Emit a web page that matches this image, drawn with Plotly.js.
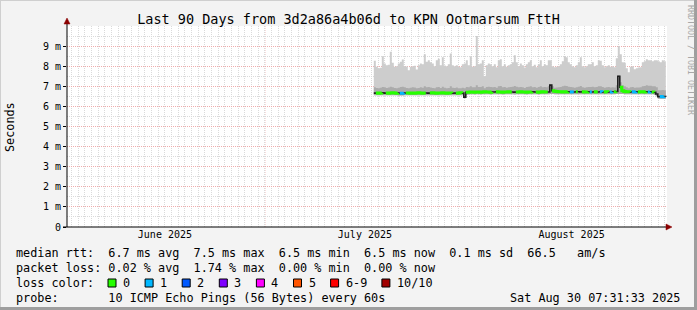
<!DOCTYPE html>
<html><head><meta charset="utf-8">
<script src="https://cdn.plot.ly/plotly-3.0.1.min.js"></script>
<style>html,body{margin:0;padding:0;background:#f3f3f3;overflow:hidden}#chart{width:697px;height:310px}</style>
</head><body><div id="chart"></div>
<script>
// ---- data ----
const titleText = 'Last 90 Days from 3d2a86a4b06d to KPN Ootmarsum FttH';
const rangeStart = '2025-06-01 07:31:33';
const rangeEnd = '2025-08-30 07:31:33';
const sampleStartUTC = [2025, 6, 17, 8, 0, 0];
const sampleStepHours = 7.2;
const monthStarts = ['2025-07-01', '2025-08-01'];
const monthLabelDates = ['2025-06-16', '2025-07-16', '2025-08-16'];
const monthLabels = ['June 2025', 'July 2025', 'August 2025'];
const yTickVals = [0, 1, 2, 3, 4, 5, 6, 7, 8, 9];
const yTickText = ['0', '1 m', '2 m', '3 m', '4 m', '5 m', '6 m', '7 m', '8 m', '9 m'];

// smoke top (max ping), ms
const smokeMax = [
 8.27,7.97,7.90,7.92,8.50,8.13,8.05,8.07,8.72,8.17,
 7.97,8.00,8.13,8.22,8.33,8.00,7.98,7.80,7.97,8.00,
 8.02,7.83,8.05,8.13,8.10,8.60,8.22,8.30,8.20,8.13,
 8.00,8.30,8.37,8.05,8.45,8.03,8.00,8.10,8.63,8.05,
 8.00,8.05,7.97,7.95,8.10,8.13,8.30,8.05,8.50,7.97,
 8.00,9.50,8.10,8.13,8.30,7.50,8.05,8.13,8.10,8.00,
 8.10,7.95,8.30,8.35,8.00,8.10,7.97,8.05,8.10,8.20,
 8.55,8.20,8.00,8.13,8.05,7.93,8.10,8.20,8.30,8.00,
 8.07,7.95,8.10,8.30,8.00,8.10,8.05,8.30,8.30,8.00,
 7.95,7.97,8.00,8.10,8.25,8.50,8.45,8.20,8.10,8.00,
 7.95,8.05,8.20,8.45,8.00,7.95,8.00,8.10,8.10,8.20,
 8.00,8.05,8.30,8.27,8.05,7.95,8.00,8.05,7.97,8.00,
 7.95,8.40,9.00,8.60,8.20,8.17,7.90,7.70,7.97,8.00,
 7.85,7.90,7.93,7.95,8.20,8.25,8.35,8.30,8.30,8.25,
 8.30,8.30,8.25,8.20,8.30,8.25,8.20];
// upper edge of the darker smoke band, ms
const smokeMid = [
 6.95,6.92,6.90,6.93,6.97,6.95,6.92,6.94,6.98,6.95,
 6.92,6.90,6.93,6.96,6.98,6.95,6.91,6.90,6.93,6.95,
 6.94,6.90,6.92,6.95,6.93,7.00,6.95,6.97,6.94,6.92,
 6.90,6.95,6.97,6.92,6.98,6.93,6.90,6.92,7.00,6.93,
 6.92,6.94,6.90,6.90,6.93,6.90,6.97,6.95,7.00,6.95,
 6.95,7.05,6.97,6.96,7.00,6.90,6.96,6.98,6.97,6.95,
 6.97,6.93,7.00,7.02,6.95,6.97,6.93,6.95,6.97,6.98,
 7.02,6.98,6.95,6.97,6.95,6.92,6.96,6.98,7.00,6.95,
 6.96,6.93,6.96,7.00,6.95,6.97,6.95,7.00,7.12,7.00,
 6.93,6.94,6.95,6.97,7.00,7.03,7.02,6.98,6.96,6.95,
 6.93,6.95,6.98,7.02,6.95,6.93,6.95,6.97,6.96,6.98,
 6.95,6.96,7.00,7.00,6.96,6.93,6.95,6.96,6.94,6.95,
 6.94,7.05,7.55,7.20,7.05,7.00,6.95,6.90,6.95,6.96,
 6.93,6.94,6.94,6.95,7.00,7.02,7.05,7.03,7.03,7.00,
 7.00,6.95,6.80,6.80,6.82,6.80,6.80];
// smoke bottom (min ping), ms
const smokeMin = [
 6.55,6.55,6.56,6.55,6.55,6.56,6.55,6.55,6.56,6.55,
 6.55,6.55,6.54,6.54,6.54,6.55,6.56,6.55,6.55,6.56,
 6.55,6.55,6.56,6.55,6.55,6.56,6.55,6.55,6.56,6.55,
 6.55,6.56,6.55,6.55,6.56,6.55,6.55,6.56,6.55,6.55,
 6.56,6.55,6.55,6.56,6.55,6.40,6.58,6.59,6.60,6.60,
 6.59,6.60,6.60,6.59,6.60,6.61,6.60,6.60,6.59,6.60,
 6.60,6.61,6.60,6.60,6.59,6.60,6.60,6.61,6.60,6.60,
 6.59,6.60,6.60,6.61,6.60,6.60,6.59,6.60,6.60,6.61,
 6.60,6.60,6.59,6.60,6.61,6.60,6.60,6.60,6.62,6.62,
 6.61,6.61,6.60,6.60,6.60,6.61,6.60,6.60,6.60,6.60,
 6.60,6.61,6.61,6.60,6.61,6.60,6.60,6.61,6.60,6.60,
 6.61,6.60,6.60,6.61,6.60,6.60,6.61,6.60,6.60,6.61,
 6.61,6.62,6.62,6.62,6.62,6.61,6.61,6.61,6.60,6.61,
 6.60,6.61,6.60,6.61,6.61,6.60,6.61,6.60,6.61,6.60,
 6.58,6.50,6.38,6.38,6.38,6.38,6.38];
// median rtt, ms
const medianRtt = [
 6.66,6.67,6.66,6.67,6.68,6.66,6.67,6.66,6.67,6.68,
 6.67,6.66,6.67,6.65,6.65,6.66,6.67,6.67,6.66,6.67,
 6.66,6.67,6.68,6.67,6.66,6.67,6.67,6.66,6.67,6.68,
 6.67,6.66,6.67,6.67,6.68,6.67,6.66,6.67,6.67,6.66,
 6.67,6.66,6.67,6.68,6.66,6.46,6.70,6.71,6.72,6.72,
 6.71,6.72,6.72,6.71,6.72,6.73,6.72,6.72,6.71,6.72,
 6.72,6.73,6.72,6.72,6.71,6.72,6.72,6.73,6.72,6.72,
 6.71,6.72,6.72,6.73,6.72,6.72,6.71,6.72,6.72,6.73,
 6.72,6.72,6.71,6.72,6.73,6.72,6.72,6.72,7.06,6.78,
 6.75,6.74,6.73,6.73,6.72,6.73,6.72,6.73,6.72,6.72,
 6.72,6.73,6.73,6.72,6.73,6.72,6.72,6.73,6.72,6.72,
 6.73,6.72,6.72,6.73,6.72,6.72,6.73,6.72,6.72,6.73,
 6.73,6.74,7.50,6.95,6.78,6.74,6.73,6.73,6.72,6.73,
 6.72,6.73,6.72,6.73,6.73,6.72,6.73,6.72,6.73,6.72,
 6.70,6.62,6.48,6.49,6.48,6.49,6.48];
// lost pings out of 10 per sample
const lossPings = [
 2,0,0,0,0,2,0,0,0,0,
 0,0,0,1,1,1,0,0,0,0,
 0,0,0,0,0,0,0,2,0,0,
 0,0,0,0,0,0,0,0,0,0,
 2,0,0,0,0,2,0,0,0,0,
 0,0,0,0,0,0,0,0,0,0,
 2,0,0,0,0,0,0,0,0,0,
 2,0,0,0,0,0,0,0,0,0,
 2,0,0,0,0,0,0,0,2,0,
 0,0,0,0,0,0,0,0,1,1,
 1,0,0,2,0,0,0,0,1,1,
 0,0,0,1,1,0,0,0,1,1,
 0,0,2,0,0,0,0,0,0,1,
 1,1,0,0,0,0,0,1,1,0,
 0,2,0,1,1,1,0];

const lossLabels = ['0', '1', '2', '3', '4', '5', '6-9', '10/10'];
const lossLevels = [0, 1, 2, 3, 4, 5, 6, 10];
const lossColors = ['#26ff00', '#00b8ff', '#0059ff', '#7e00ff', '#ff00ff', '#ff5500', '#ff0000', '#a10000'];
const statLines = [
 'median rtt:  6.7 ms avg  7.5 ms max  6.5 ms min  6.5 ms now  0.1 ms sd  66.5   am/s',
 'packet loss: 0.02 % avg  1.74 % max  0.00 % min  0.00 % now',
 'loss color:',
 'probe:       10 ICMP Echo Pings (56 Bytes) every 60s'
];
const stampText = 'Sat Aug 30 07:31:33 2025';
const yTitle = 'Seconds';
const sideText = 'RRDTOOL / TOBI OETIKER';

// ---- layout geometry (pixels) ----
const W = 697, H = 310, L = 67, R = 667, T = 26, B = 227;
const PW = R - L, PH = B - T;
const px = x => (x - L) / PW;
const py = y => (B - y) / PH;
const MONO = 'DejaVu Sans Mono';
const nb = s => s.replace(/ /g, '\u00A0');

const t0 = Date.UTC(...sampleStartUTC);
const times = medianRtt.map((_, i) => t0 + i * sampleStepHours * 3600000);

const base = {x: times, type: 'scatter', mode: 'lines', hoverinfo: 'skip', showlegend: false};
const traces = [
  Object.assign({}, base, {y: smokeMin, line: {width: 0, shape: 'hv'}}),
  Object.assign({}, base, {y: smokeMax, line: {width: 0, shape: 'hv'}, fill: 'tonexty', fillcolor: '#cdcdcd'}),
  Object.assign({}, base, {y: smokeMin, line: {width: 0, shape: 'hv'}}),
  Object.assign({}, base, {y: smokeMid, line: {width: 0, shape: 'hv'}, fill: 'tonexty', fillcolor: '#ababab'}),
  Object.assign({}, base, {y: medianRtt, line: {width: 1.6, color: '#202020', shape: 'hv'}})
];
const bucket = n => (n >= 10 ? 7 : n >= 6 ? 6 : n);
lossLevels.forEach((lv, k) => {
  const ys = medianRtt.map((v, i) => bucket(lossPings[i]) === k ? v : null);
  if (ys.some(v => v !== null)) {
    traces.push(Object.assign({}, base, {y: ys, connectgaps: false, line: {width: 3, color: lossColors[k], shape: 'hv'}}));
  }
});

const gridPink = '#efadad';
const gridGray = '#dadada';
const shapes = [];
monthStarts.forEach(d => shapes.push({type: 'line', xref: 'x', yref: 'paper', x0: d, x1: d, y0: 0, y1: 1,
  line: {color: gridPink, width: 1, dash: '1px,1px'}, layer: 'below'}));
// axes with arrows
shapes.push({type: 'line', xref: 'paper', yref: 'paper', x0: px(67), x1: px(67), y0: py(227), y1: py(21), line: {color: '#000', width: 1}});
shapes.push({type: 'line', xref: 'paper', yref: 'paper', x0: px(63), x1: px(669), y0: py(227), y1: py(227), line: {color: '#000', width: 1}});
shapes.push({type: 'path', xref: 'paper', yref: 'paper',
  path: `M ${px(64)} ${py(24)} L ${px(70)} ${py(24)} L ${px(67)} ${py(18)} Z`, fillcolor: '#8b0000', line: {color: '#8b0000', width: 0.5}});
shapes.push({type: 'path', xref: 'paper', yref: 'paper',
  path: `M ${px(666)} ${py(224)} L ${px(666)} ${py(230)} L ${px(672)} ${py(227)} Z`, fillcolor: '#8b0000', line: {color: '#8b0000', width: 0.5}});
// frame
shapes.push({type: 'line', xref: 'paper', yref: 'paper', x0: px(0), x1: px(697), y0: py(0.5), y1: py(0.5), line: {color: '#cfcfcf', width: 1}});
shapes.push({type: 'line', xref: 'paper', yref: 'paper', x0: px(0.5), x1: px(0.5), y0: py(0), y1: py(310), line: {color: '#cfcfcf', width: 1}});
shapes.push({type: 'line', xref: 'paper', yref: 'paper', x0: px(695.5), x1: px(695.5), y0: py(0), y1: py(310), line: {color: '#9e9e9e', width: 3}});
shapes.push({type: 'line', xref: 'paper', yref: 'paper', x0: px(0), x1: px(697), y0: py(308.5), y1: py(308.5), line: {color: '#9e9e9e', width: 3}});

const annotations = [];
const ann = (text, x, y, opts) => annotations.push(Object.assign({
  text: nb(text), xref: 'paper', yref: 'paper', x: px(x), y: py(y), xanchor: 'left', yanchor: 'middle',
  showarrow: false, borderpad: 0, font: {family: MONO, size: 11.8, color: '#000'}
}, opts || {}));
const rows = [253, 268, 283, 298];
statLines.forEach((s, i) => ann(s, 15, rows[i]));
ann(stampText, 681, 298, {xanchor: 'right'});
// loss colour boxes
let bx = 108;
lossLabels.forEach((lab, k) => {
  shapes.push({type: 'rect', xref: 'paper', yref: 'paper', x0: px(bx), x1: px(bx + 8), y0: py(287), y1: py(279),
    fillcolor: lossColors[k], line: {color: '#000', width: 1}});
  ann(lab, bx + 14, 283);
  bx += 8 + 7 + lab.length * 7.1 + 15;
});
ann(yTitle, 10, 127, {xanchor: 'center', textangle: -90});
ann(sideText, 691, 60, {xanchor: 'center', textangle: 90, font: {family: MONO, size: 8.3, color: '#a8a8a8'}});

const layout = {
  width: W, height: H,
  margin: {l: L, r: W - R, t: T, b: H - B, pad: 0},
  paper_bgcolor: '#f3f3f3', plot_bgcolor: '#ffffff',
  showlegend: false,
  title: {text: titleText, font: {family: MONO, size: 13.5, color: '#000'}, x: 0.5, xref: 'container', xanchor: 'center',
    y: 1 - 19 / H, yref: 'container', yanchor: 'middle'},
  xaxis: {type: 'date', range: [rangeStart, rangeEnd], fixedrange: true,
    tickmode: 'array', tickvals: monthLabelDates, ticktext: monthLabels, ticks: '',
    tickfont: {family: MONO, size: 10, color: '#000'}, showgrid: false, zeroline: false, showline: false,
    minor: {dtick: 86400000, tick0: '2025-06-01', showgrid: true, gridcolor: gridGray, griddash: '1px,1px', gridwidth: 1, ticks: ''}},
  yaxis: {range: [0, 10], fixedrange: true, tickmode: 'array', tickvals: yTickVals, ticktext: yTickText,
    ticks: 'outside', ticklen: 3, tickcolor: '#000', tickfont: {family: MONO, size: 10, color: '#000'},
    showgrid: true, gridcolor: gridPink, griddash: '1px,1px', gridwidth: 1, zeroline: false, showline: false,
    minor: {dtick: 0.5, showgrid: true, gridcolor: gridGray, griddash: '1px,1px', gridwidth: 1, ticks: ''}},
  shapes: shapes, annotations: annotations
};
Plotly.newPlot('chart', traces, layout, {staticPlot: true, displayModeBar: false});
</script></body></html>
